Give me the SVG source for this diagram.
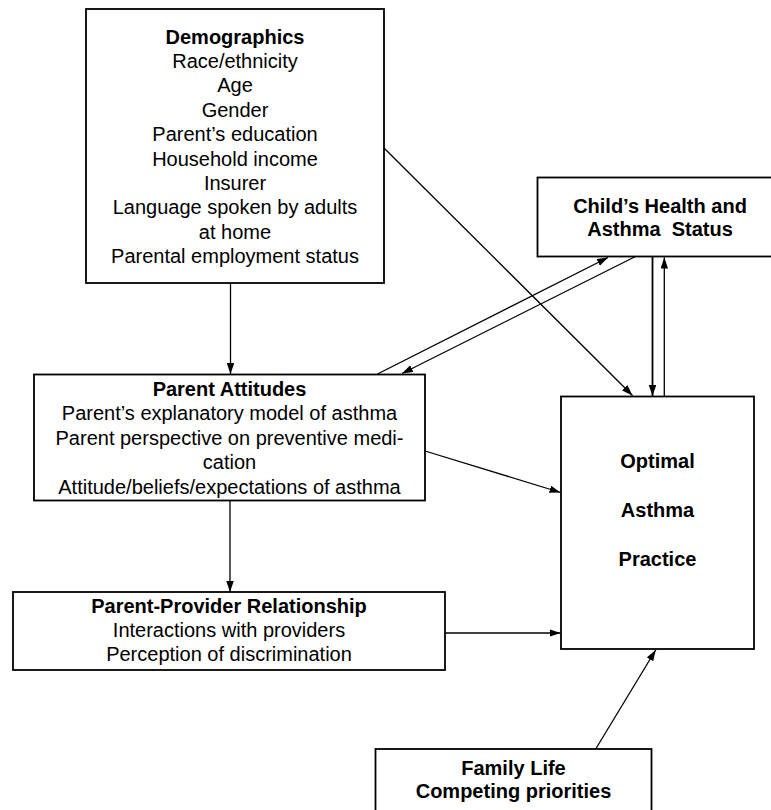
<svg xmlns="http://www.w3.org/2000/svg" width="771" height="810" viewBox="0 0 771 810">
<style>
.box{fill:#fff;stroke:#000;stroke-width:1.8}
.t{font-family:"Liberation Sans",Arial,sans-serif;font-size:20px;text-anchor:middle;fill:#000}
.b{font-weight:bold}
.c{stroke:#000;stroke-width:1.3;fill:none;marker-end:url(#ah)}
</style>
<defs>
<marker id="ah" markerUnits="userSpaceOnUse" markerWidth="12" markerHeight="8" refX="11" refY="3.75" orient="auto">
<path d="M0,0 L11,3.75 L0,7.5 z" fill="#000"/>
</marker>
</defs>
<rect width="771" height="810" fill="#fff"/>
<g id="demographics">
<rect class="box" x="86" y="9" width="298" height="274"/>
<text class="t b" x="235" y="43.5">Demographics</text>
<text class="t" x="235" y="68">Race/ethnicity</text>
<text class="t" x="235" y="92.3">Age</text>
<text class="t" x="235" y="116.7">Gender</text>
<text class="t" x="235" y="141.1">Parent’s education</text>
<text class="t" x="235" y="165.5">Household income</text>
<text class="t" x="235" y="189.9">Insurer</text>
<text class="t" x="235" y="214.3">Language spoken by adults</text>
<text class="t" x="235" y="238.7">at home</text>
<text class="t" x="235" y="263.1">Parental employment status</text>
</g>
<g id="child-health">
<rect class="box" x="537.5" y="177.5" width="245" height="79"/>
<text class="t b" x="660" y="212.7">Child’s Health and</text>
<text class="t b" x="660" y="236">Asthma&#160; Status</text>
</g>
<g id="parent-attitudes">
<rect class="box" x="34" y="374.5" width="391" height="126"/>
<text class="t b" x="229.5" y="395.7">Parent Attitudes</text>
<text class="t" x="229.5" y="420.3">Parent’s explanatory model of asthma</text>
<text class="t" x="229.5" y="444.7">Parent perspective on preventive medi-</text>
<text class="t" x="229.5" y="469.1">cation</text>
<text class="t" x="229.5" y="493.5">Attitude/beliefs/expectations of asthma</text>
</g>
<g id="optimal-practice">
<rect class="box" x="561" y="396.5" width="193" height="252.5"/>
<text class="t b" x="657.5" y="468">Optimal</text>
<text class="t b" x="657.5" y="517">Asthma</text>
<text class="t b" x="657.5" y="566">Practice</text>
</g>
<g id="parent-provider">
<rect class="box" x="13" y="592" width="432" height="78"/>
<text class="t b" x="229" y="613.3">Parent-Provider Relationship</text>
<text class="t" x="229" y="637">Interactions with providers</text>
<text class="t" x="229" y="661">Perception of discrimination</text>
</g>
<g id="family-life">
<rect class="box" x="375.5" y="749" width="276" height="80"/>
<text class="t b" x="513.5" y="775">Family Life</text>
<text class="t b" x="513.5" y="798">Competing priorities</text>
</g>
<g id="connectors">
<line class="c" x1="230.5" y1="283" x2="230.5" y2="374"/>
<line class="c" x1="384" y1="148" x2="632.5" y2="395.5"/>
<line class="c" x1="377.5" y1="374" x2="608" y2="257.5"/>
<line class="c" x1="635.5" y1="256.5" x2="402" y2="373.5"/>
<line class="c" x1="652.5" y1="257" x2="652.5" y2="396" style="stroke-width:1.8"/>
<line class="c" x1="664.3" y1="396" x2="664.3" y2="257.5"/>
<line class="c" x1="425" y1="451" x2="560.5" y2="492.5"/>
<line class="c" x1="230" y1="501" x2="230" y2="592"/>
<line class="c" x1="445" y1="633" x2="560.5" y2="633"/>
<line class="c" x1="595.7" y1="749" x2="655.7" y2="650"/>
</g>
</svg>
